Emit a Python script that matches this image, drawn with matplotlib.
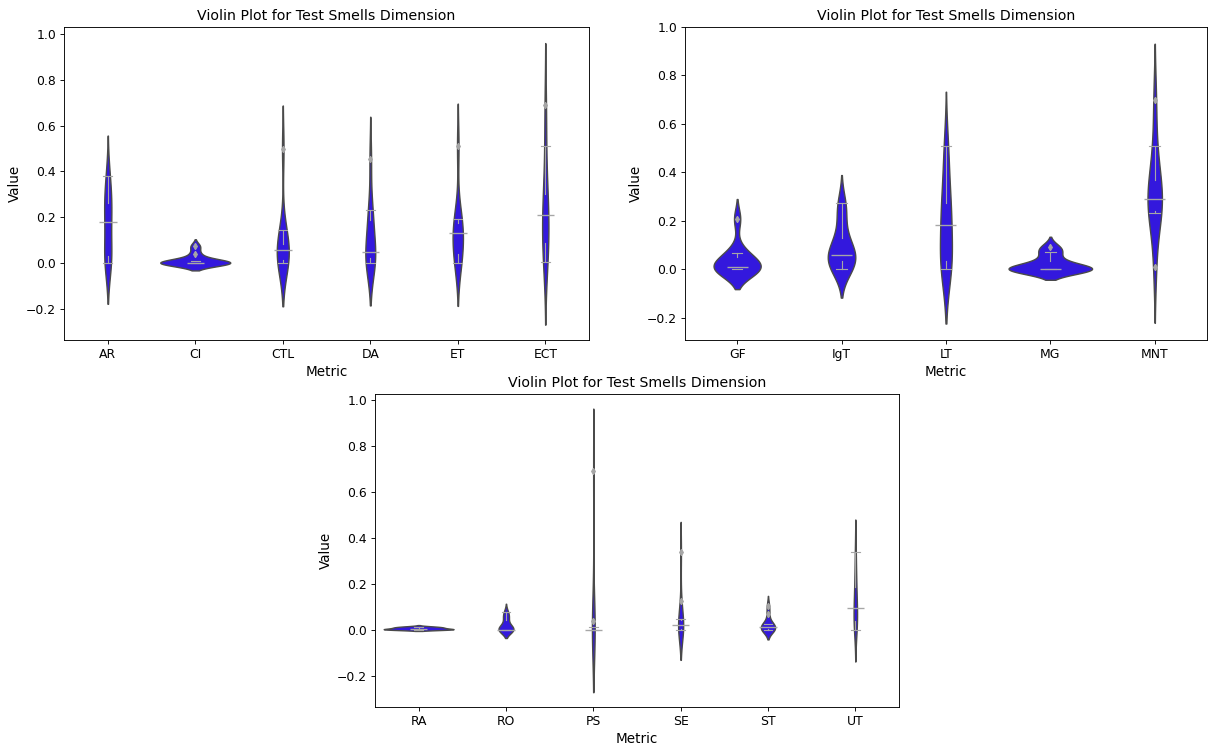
import numpy as np
import pandas as pd
import matplotlib
matplotlib.use("Agg")
import matplotlib.pyplot as plt
import seaborn as sns

# values per metric (n=10 each)
AR = [0.0, 0.01, 0.02, 0.06, 0.15, 0.21, 0.24, 0.27, 0.33, 0.38]
CI = [0.0, 0.0, 0.0, 0.0, 0.0, 0.005, 0.008, 0.01, 0.04, 0.074]
CTL = [0.0, 0.005, 0.01, 0.03, 0.05, 0.07, 0.075, 0.09, 0.143, 0.50]
DA = [0.0, 0.005, 0.02, 0.025, 0.04, 0.056, 0.16, 0.2, 0.232, 0.455]
ET = [0.0, 0.01, 0.03, 0.08, 0.12, 0.14, 0.16, 0.18, 0.193, 0.51]
ECT = [0.004, 0.05, 0.08, 0.11, 0.19, 0.228, 0.27, 0.31, 0.509, 0.688]

GF = [0.0, 0.0, 0.0, 0.0, 0.005, 0.01, 0.03, 0.06, 0.069, 0.208]
IgT = [0.0, 0.005, 0.03, 0.05, 0.055, 0.067, 0.1, 0.14, 0.23, 0.272]
LT = [0.0, 0.01, 0.03, 0.05, 0.15, 0.214, 0.26, 0.28, 0.42, 0.509]
MG = [0.0, 0.0, 0.0, 0.0, 0.0, 0.0, 0.01, 0.04, 0.072, 0.091]
MNT = [0.01, 0.233, 0.24, 0.245, 0.28, 0.304, 0.35, 0.377, 0.509, 0.70]

RA = [0.0, 0.0, 0.0, 0.0, 0.003, 0.005, 0.007, 0.009, 0.011, 0.013]
RO = [0.0, 0.0, 0.0, 0.0, 0.0, 0.0, 0.02, 0.047, 0.06, 0.075]
PS = [0.0, 0.0, 0.0, 0.0, 0.0, 0.0, 0.005, 0.012, 0.035, 0.688]
SE = [0.0, 0.0, 0.0, 0.01, 0.015, 0.02, 0.03, 0.046, 0.125, 0.336]
ST = [0.0, 0.0, 0.0, 0.005, 0.01, 0.014, 0.018, 0.025, 0.067, 0.103]
UT = [0.0, 0.02, 0.03, 0.06, 0.08, 0.106, 0.15, 0.197, 0.25, 0.339]

PANELS = [
    (["AR", "CI", "CTL", "DA", "ET", "ECT"], [AR, CI, CTL, DA, ET, ECT]),
    (["GF", "IgT", "LT", "MG", "MNT"], [GF, IgT, LT, MG, MNT]),
    (["RA", "RO", "PS", "SE", "ST", "UT"], [RA, RO, PS, SE, ST, UT]),
]
YLIMS = [(-0.334, 1.029), (-0.292, 1.0), (-0.337, 1.024)]

VIOLIN = "#3318dd"
BOXGRAY = "#a6a6a6"

DPI = 81
fig = plt.figure(figsize=(1208 / DPI, 745 / DPI), dpi=DPI)
rects = [
    [0.053, 0.5436, 0.4346, 0.4201],
    [0.567, 0.5436, 0.4321, 0.4201],
    [0.3104, 0.051, 0.4338, 0.4201],
]

for rect, ylim, (names, arrays) in zip(rects, YLIMS, PANELS):
    ax = fig.add_axes(rect)
    df = pd.DataFrame({
        "Metric": np.repeat(names, [len(a) for a in arrays]),
        "Value": np.concatenate(arrays),
    })
    sns.violinplot(x="Metric", y="Value", data=df, color=VIOLIN,
                   saturation=1, inner=None, ax=ax)
    # whiskers / caps / median / fliers on top, no box
    ax.boxplot(arrays, positions=range(len(names)), widths=0.2,
               showbox=False, manage_ticks=False,
               whiskerprops=dict(color=BOXGRAY, lw=1),
               capprops=dict(color=BOXGRAY, lw=1),
               medianprops=dict(color=BOXGRAY, lw=1.2),
               flierprops=dict(marker="d", markerfacecolor=BOXGRAY,
                               markeredgecolor=BOXGRAY, markersize=4))
    ax.set_xlim(-0.5, len(names) - 0.5)
    ax.set_ylim(*ylim)
    ax.tick_params(labelsize=11)
    ax.set_title("Violin Plot for Test Smells Dimension", fontsize=12.5)
    ax.set_xlabel("Metric", fontsize=12)
    ax.set_ylabel("Value", fontsize=12)

fig.savefig("out.png", dpi=DPI)
